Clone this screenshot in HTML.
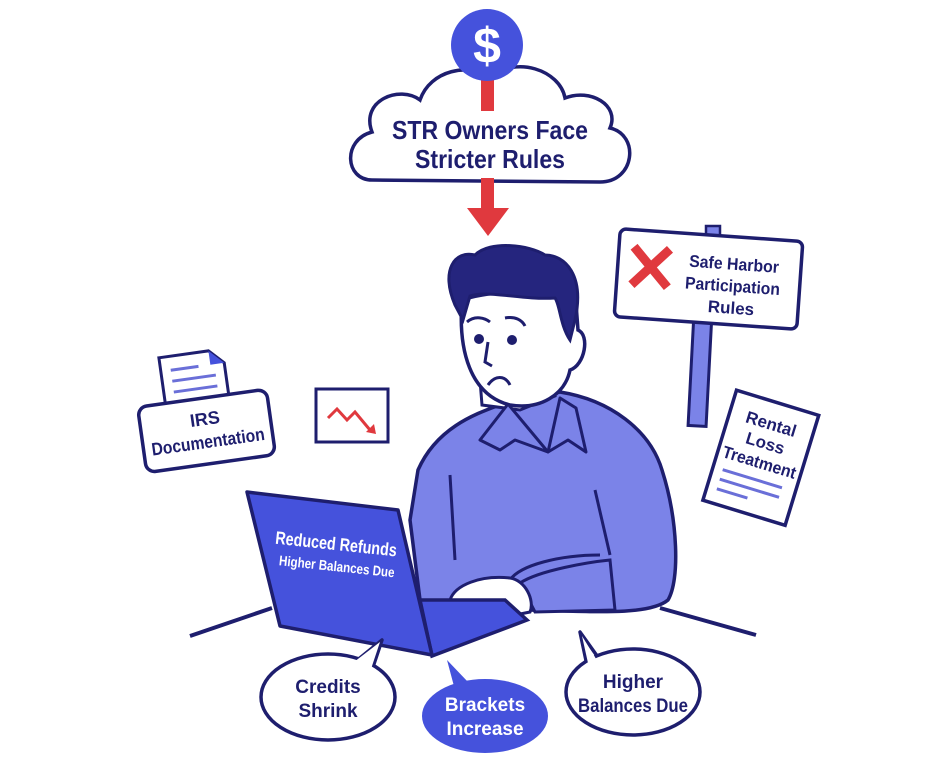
<!DOCTYPE html>
<html><head><meta charset="utf-8"><style>
html,body{margin:0;padding:0;background:#fff;}
svg{display:block;}
text{font-family:"Liberation Sans",sans-serif;font-weight:bold;}
</style></head><body>
<svg width="933" height="781" viewBox="0 0 933 781" xmlns="http://www.w3.org/2000/svg">
<!-- cloud -->
<path d="M372,180 C345,180 342,140 372,132 C360,100 400,85 420,100 C430,70 470,62 490,78 C515,55 560,70 565,98 C590,88 620,105 610,128 C640,135 635,182 600,182 Z" fill="#fff" stroke="#1e1e6e" stroke-width="3.5"/>
<rect x="481" y="75" width="13" height="36" fill="#e0393e"/>
<circle cx="487" cy="45" r="36" fill="#4552dc"/>
<text x="487" y="63" font-size="50" fill="#fff" text-anchor="middle">$</text>
<text x="490" y="139" font-size="26" fill="#1e1e6e" text-anchor="middle" textLength="196" lengthAdjust="spacingAndGlyphs">STR Owners Face</text>
<text x="490" y="168" font-size="26" fill="#1e1e6e" text-anchor="middle" textLength="150" lengthAdjust="spacingAndGlyphs">Stricter Rules</text>
<rect x="481" y="178" width="13" height="32" fill="#e0393e"/>
<polygon points="467,208 509,208 488,236" fill="#e0393e"/>
<!-- sign -->
<rect x="691" y="320" width="18" height="106" fill="#7b83e8" stroke="#1e1e6e" stroke-width="3" transform="rotate(3 700 370)"/>
<rect x="706" y="226" width="14" height="12" fill="#7b83e8" stroke="#1e1e6e" stroke-width="2.5"/>
<g transform="rotate(4 708 279)">
<rect x="617" y="235" width="183" height="88" rx="6" fill="#fff" stroke="#1e1e6e" stroke-width="3.5"/>
<path d="M632,252 L668,290 M668,252 L632,290" stroke="#e0393e" stroke-width="9"/>
<text x="733" y="268" font-size="17" fill="#1e1e6e" text-anchor="middle" textLength="90" lengthAdjust="spacingAndGlyphs">Safe Harbor</text>
<text x="733" y="290" font-size="17" fill="#1e1e6e" text-anchor="middle" textLength="95" lengthAdjust="spacingAndGlyphs">Participation</text>
<text x="733" y="312" font-size="17" fill="#1e1e6e" text-anchor="middle">Rules</text>
</g>
<!-- rental loss -->
<g transform="rotate(17 760 457)">
<rect x="718" y="400" width="86" height="115" fill="#fff" stroke="#1e1e6e" stroke-width="3.5"/>
<text x="761" y="428" font-size="17" fill="#1e1e6e" text-anchor="middle">Rental</text>
<text x="761" y="448" font-size="17" fill="#1e1e6e" text-anchor="middle">Loss</text>
<text x="761" y="468" font-size="17" fill="#1e1e6e" text-anchor="middle" textLength="76" lengthAdjust="spacingAndGlyphs">Treatment</text>
<path d="M728,480 L790,480 M728,490 L790,490 M728,500 L760,500" stroke="#6a6fd8" stroke-width="3"/>
</g>
<!-- IRS -->
<g transform="rotate(-8 205 420)">
<path d="M168,352 L218,352 L232,366 L232,405 L168,405 Z" fill="#fff" stroke="#1e1e6e" stroke-width="3"/>
<path d="M218,352 L218,366 L232,366 Z" fill="#4552dc"/>
<path d="M178,366 L206,366 M178,377 L222,377 M178,388 L222,388 M178,399 L222,399" stroke="#6a6fd8" stroke-width="3"/>
<rect x="140" y="398" width="130" height="66" rx="9" fill="#fff" stroke="#1e1e6e" stroke-width="3.5"/>
<text x="205" y="425" font-size="18" fill="#1e1e6e" text-anchor="middle">IRS</text>
<text x="205" y="448" font-size="18" fill="#1e1e6e" text-anchor="middle" textLength="114" lengthAdjust="spacingAndGlyphs">Documentation</text>
</g>
<!-- chart -->
<rect x="316" y="389" width="72" height="53" fill="#fff" stroke="#1e1e6e" stroke-width="3"/>
<path d="M328,418 L337,409 L347,420 L355,412 L370,430" stroke="#e0393e" stroke-width="3" fill="none"/>
<polygon points="366,432 376,434 374,424" fill="#e0393e"/>
<!-- desk lines -->
<path d="M190,636 L272,608" stroke="#1e1e6e" stroke-width="4"/>
<path d="M660,608 L756,635" stroke="#1e1e6e" stroke-width="4"/>
<!-- body -->
<path d="M418,470 C440,420 490,410 512,400 L560,392 C610,400 650,430 662,470 C678,520 680,580 668,600 C650,615 600,612 530,610 L420,600 L410,520 Z" fill="#7b83e8" stroke="#1e1e6e" stroke-width="3.5"/>
<path d="M450,475 L455,560 M595,490 L610,555 M600,555 C560,555 520,565 510,580" fill="none" stroke="#1e1e6e" stroke-width="3"/>
<path d="M520,583 C540,570 590,562 610,560 L615,610 L535,612 Z" fill="#7b83e8" stroke="#1e1e6e" stroke-width="3"/>
<!-- hand -->
<path d="M450,600 C455,585 480,575 510,578 C525,580 535,600 530,612 L490,620 C470,622 455,615 450,600 Z" fill="#fff" stroke="#1e1e6e" stroke-width="3"/>
<!-- neck/head -->
<path d="M480,380 L482,405 L520,410 L555,396 L550,370 Z" fill="#fff" stroke="#1e1e6e" stroke-width="3"/>
<!-- collar -->
<path d="M508,404 L480,440 L500,450 L515,440 L548,452 Z" fill="#7b83e8" stroke="#1e1e6e" stroke-width="3" stroke-linejoin="round"/>
<path d="M560,398 L548,452 L568,440 L586,452 L576,408 Z" fill="#7b83e8" stroke="#1e1e6e" stroke-width="3" stroke-linejoin="round"/>
<path d="M462,300 C458,350 470,395 510,405 C540,410 565,395 570,370 C585,365 590,335 578,330 L575,290 C540,290 490,290 462,300 Z" fill="#fff" stroke="#1e1e6e" stroke-width="3.5"/>
<path d="M455,305 C440,270 455,250 475,255 C490,240 530,245 545,255 C565,255 585,275 575,320 L570,340 C560,325 560,305 555,298 C520,300 490,290 470,296 L463,320 Z" fill="#25257e" stroke="#1e1e6e" stroke-width="3"/>
<circle cx="479" cy="339" r="5" fill="#1e1e6e"/><circle cx="512" cy="340" r="5" fill="#1e1e6e"/>
<path d="M467,322 C475,315 485,318 490,322 M505,318 C515,316 522,320 525,326 M488,342 L485,362 L492,366 M488,385 C495,375 505,375 510,385" fill="none" stroke="#1e1e6e" stroke-width="3"/>
<!-- laptop -->
<path d="M420,600 L505,600 L527,620 L432,656 Z" fill="#4552dc" stroke="#1e1e6e" stroke-width="3.5"/>
<path d="M247,492 L398,510 L432,655 L280,626 Z" fill="#4552dc" stroke="#1e1e6e" stroke-width="3.5" stroke-linejoin="round"/>
<g transform="rotate(6 335 555)">
<text x="335" y="550" font-size="18" fill="#fff" text-anchor="middle" textLength="122" lengthAdjust="spacingAndGlyphs">Reduced Refunds</text>
<text x="338" y="571" font-size="14" fill="#fff" text-anchor="middle" textLength="116" lengthAdjust="spacingAndGlyphs">Higher Balances Due</text>
</g>
<!-- bubbles -->
<path d="M355,662 L382,640 L372,670 Z" fill="#fff" stroke="#1e1e6e" stroke-width="3.5" stroke-linejoin="round"/>
<ellipse cx="328" cy="697" rx="67" ry="43" fill="#fff" stroke="#1e1e6e" stroke-width="3.5"/>
<path d="M354,662 L380,642 L370,672" fill="#fff"/>
<text x="328" y="693" font-size="19" fill="#1e1e6e" text-anchor="middle">Credits</text>
<text x="328" y="717" font-size="19" fill="#1e1e6e" text-anchor="middle">Shrink</text>
<path d="M447,660 L468,682 L455,690 Z" fill="#4552dc"/>
<ellipse cx="485" cy="716" rx="63" ry="37" fill="#4552dc"/>
<text x="485" y="711" font-size="19" fill="#fff" text-anchor="middle">Brackets</text>
<text x="485" y="735" font-size="19" fill="#fff" text-anchor="middle">Increase</text>
<path d="M600,660 L580,632 L588,670 Z" fill="#fff" stroke="#1e1e6e" stroke-width="3.5" stroke-linejoin="round"/>
<ellipse cx="633" cy="692" rx="67" ry="43" fill="#fff" stroke="#1e1e6e" stroke-width="3.5"/>
<path d="M598,662 L582,636 L590,672" fill="#fff"/>
<text x="633" y="688" font-size="19" fill="#1e1e6e" text-anchor="middle">Higher</text>
<text x="633" y="712" font-size="19" fill="#1e1e6e" text-anchor="middle" textLength="110" lengthAdjust="spacingAndGlyphs">Balances Due</text>
</svg>
</body></html>
